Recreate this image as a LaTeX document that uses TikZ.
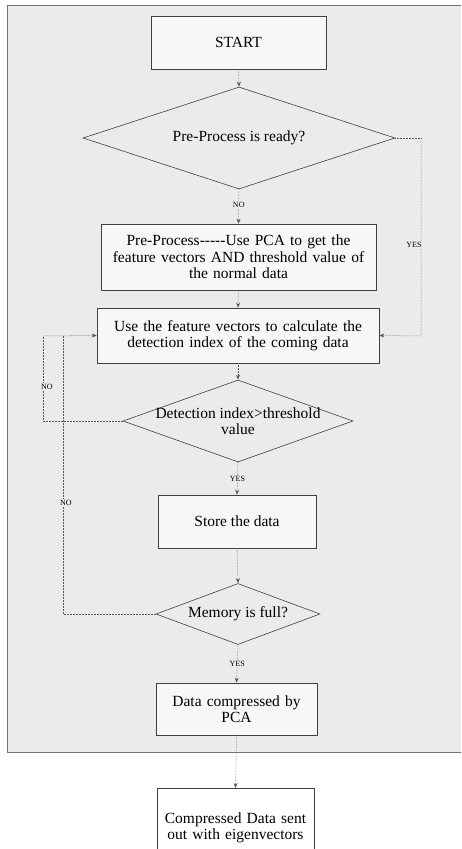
\documentclass[tikz,border=0pt]{standalone}
\usepackage{fontspec}
\setmainfont{Liberation Serif}
\usetikzlibrary{shapes.geometric,arrows.meta}
\newcommand\hyph{\mbox{-}}
\begin{document}
\begin{tikzpicture}[x=1pt,y=-1pt,
  box/.style={draw=black!75, line width=0.6pt, fill=black!3, align=center, inner sep=2pt,
    font=\fontsize{15.5}{16.5}\selectfont},
  dia/.style={draw=black!75, line width=0.6pt, shape=diamond, inner sep=0pt},
  dtext/.style={align=center, font=\fontsize{15.5}{16.5}\selectfont},
  conn/.style={draw=black!65, line width=0.5pt, densely dotted, -{Stealth[length=5pt,width=4pt]}},
  line/.style={draw=black!65, line width=0.5pt, densely dotted},
  lab/.style={font=\fontsize{8}{9}\selectfont, fill=black!8, inner sep=1pt}
]
\useasboundingbox (0,0) rectangle (461,849);
\clip (0,0) rectangle (461,849);
\fill[white] (0,0) rectangle (461,849);
\draw[fill=black!8, draw=black!55, line width=0.8pt] (7,5) rectangle (470,752);

\node[box, minimum width=175pt, minimum height=53pt] (start) at (238.5,42.5) {START};
\node[dia, minimum width=312pt, minimum height=102pt] (d1) at (239,138) {};
\node[dtext] at (d1) {Pre-Process is ready?};
\node[box, minimum width=275pt, minimum height=66pt, text width=270pt] (pre) at (238.5,257) {Pre-Process\hyph\hyph\hyph\hyph\hyph Use PCA to get the\\feature vectors AND threshold value of\\the normal data};
\node[box, minimum width=282pt, minimum height=55pt, text width=278pt] (use) at (238,335.5) {Use the feature vectors to calculate the\\detection index of the coming data};
\node[dia, minimum width=230pt, minimum height=82pt] (d2) at (238,421) {};
\node[dtext] at (d2) {Detection index>threshold\\value};
\node[box, minimum width=158pt, minimum height=53pt] (store) at (237,521.5) {Store the data};
\node[dia, minimum width=164pt, minimum height=61pt] (d3) at (238,614) {};
\node[dtext] at (d3) {Memory is full?};
\node[box, minimum width=161pt, minimum height=52pt, text width=155pt] (comp) at (236.5,709) {Data compressed by\\PCA};
\node[box, fill=white, minimum width=157pt, minimum height=70pt, anchor=north, text width=152pt, inner sep=0pt] (final) at (235.5,788) {\rule{0pt}{20pt}Compressed Data sent\\out with eigenvectors\\[14pt]};

\coordinate (yr1) at (421,138);
\coordinate (yr2) at (421,336);
\coordinate (nl1) at (43,421);
\coordinate (nl2) at (43,336);
\coordinate (nm1) at (63,614);
\coordinate (nm2) at (63,336);

\draw[conn] (start.south) -- (d1.north);
\draw[conn] (d1.south) -- node[lab, pos=0.45] {NO} (pre.north);
\draw[conn] (pre.south) -- (use.north);
\draw[line] (d1.east) -- (yr1);
\draw[conn] (yr1) -- node[lab, pos=0.54, xshift=-7pt] {YES} (yr2) -- (use.east);
\draw[conn] (use.south) -- (d2.north);
\draw[line] (d2.west) -- (nl1) -- node[lab, pos=0.4, xshift=4pt] {NO} (nl2);
\draw[conn] (nl2) -- (use.west);
\draw[line] (d3.west) -- (nm1) -- node[lab, pos=0.4, xshift=3pt] {NO} (nm2);
\draw[conn] (d2.south) -- node[lab, pos=0.5] {YES} (store.north);
\draw[conn] (store.south) -- (d3.north);
\draw[conn] (d3.south) -- node[lab, pos=0.5] {YES} (comp.north);
\draw[conn] (comp.south) -- (final.north);
\end{tikzpicture}
\end{document}
